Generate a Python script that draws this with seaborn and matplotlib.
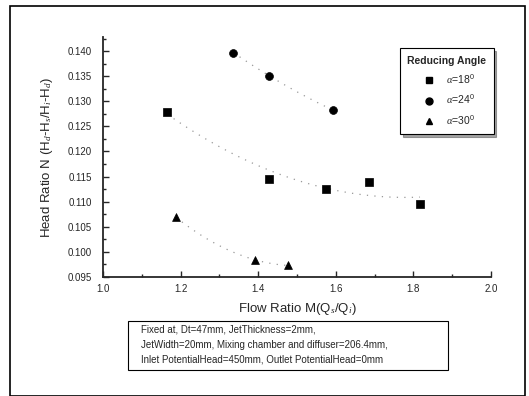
import matplotlib
matplotlib.use("Agg")
import matplotlib.pyplot as plt
import seaborn as sns
import pandas as pd
from matplotlib.patches import Rectangle
from matplotlib.ticker import MultipleLocator

x18 = [1.166, 1.429, 1.574, 1.686, 1.817]
y18 = [0.1279, 0.1146, 0.1125, 0.1140, 0.1095]
x24 = [1.336, 1.428, 1.594]
y24 = [0.1397, 0.1351, 0.1282]
x30 = [1.188, 1.393, 1.476]
y30 = [0.1069, 0.0984, 0.0973]
labels = [r"$\alpha$=18$^0$", r"$\alpha$=24$^0$", r"$\alpha$=30$^0$"]
markers = ["s", "o", "^"]
xticks = [1.0, 1.2, 1.4, 1.6, 1.8, 2.0]
yticks = [0.095, 0.100, 0.105, 0.110, 0.115, 0.120, 0.125, 0.130, 0.135, 0.140]

sns.set_style("ticks")
plt.rcParams['font.family'] = ['Liberation Sans', 'DejaVu Sans']
plt.rcParams['mathtext.fontset'] = 'custom'
plt.rcParams['mathtext.rm'] = 'Liberation Sans'
plt.rcParams['mathtext.it'] = 'Liberation Serif:italic'

fig = plt.figure(figsize=(5.29, 3.96), dpi=100)
ax = fig.add_axes([103/529, 1-277/396, 388/529, 240/396])

series = [(x18, y18), (x24, y24), (x30, y30)]
handles = []
for (xs, ys), lab, m in zip(series, labels, markers):
    df = pd.DataFrame({"x": xs, "y": ys})
    sns.regplot(data=df, x="x", y="y", order=2, ci=None, scatter=False, ax=ax,
                line_kws=dict(color="#999999", lw=0.9, ls=(0, (1, 5))), truncate=True)
    sns.scatterplot(data=df, x="x", y="y", marker=m, color="black", s=32,
                    edgecolor="black", linewidth=0.5, ax=ax, zorder=5)
    handles.append(plt.Line2D([], [], marker=m, color="black", ls="none", markersize=5, label=lab))

ax.set_xlim(1.0, 2.0)
ax.set_ylim(0.095, 0.1428)
ax.xaxis.set_minor_locator(MultipleLocator(0.1))
ax.yaxis.set_minor_locator(MultipleLocator(0.0025))
ax.set_xticks(xticks)
ax.set_xticklabels([f"{v:.1f}" for v in xticks])
ax.set_yticks(yticks)
ax.set_yticklabels([f"{v:.3f}" for v in yticks])
ax.tick_params(which="both", direction="in", labelsize=7, width=1)
ax.tick_params(axis="y", which="major", pad=8)
ax.tick_params(axis="x", which="major", pad=5)
ax.tick_params(which="major", length=4)
ax.tick_params(which="minor", length=2)
for s in ["top", "right"]:
    ax.spines[s].set_visible(False)
for s in ["left", "bottom"]:
    ax.spines[s].set_linewidth(1.3)

ax.set_xlabel(r"Flow Ratio M(Q$_s$/Q$_i$)", fontsize=9.5, labelpad=5)
ax.set_ylabel(r"Head Ratio N (H$_d$-H$_s$/H$_i$-H$_d$)", fontsize=9.5, labelpad=9)

leg = ax.legend(handles=handles, title="Reducing Angle", loc="upper right",
                bbox_to_anchor=(1.02, 0.975), fontsize=7.5, title_fontsize=7.5,
                frameon=True, fancybox=False, shadow=True, edgecolor="black",
                handletextpad=0.6, borderpad=0.7, labelspacing=0.7)
leg.get_title().set_fontweight("bold")
leg.get_frame().set_linewidth(0.8)

# annotation box
fig.patches.append(Rectangle((128/529, 1-370/396), 320/529, 49/396, transform=fig.transFigure,
                             fill=False, edgecolor="black", lw=0.8))
lines = ["Fixed at, Dt=47mm, JetThickness=2mm,",
         "JetWidth=20mm, Mixing chamber and diffuser=206.4mm,",
         "Inlet PotentialHead=450mm, Outlet PotentialHead=0mm"]
for i, t in enumerate(lines):
    fig.text(141/529, 1-(330+15*i)/396, t, fontsize=7, va="center", ha="left")

# figure frame
fig.patches.append(Rectangle((10/529, 0), 515/529, 1-6/396, transform=fig.transFigure,
                             fill=False, edgecolor="black", lw=1.2))

fig.savefig("out.png", dpi=100)
